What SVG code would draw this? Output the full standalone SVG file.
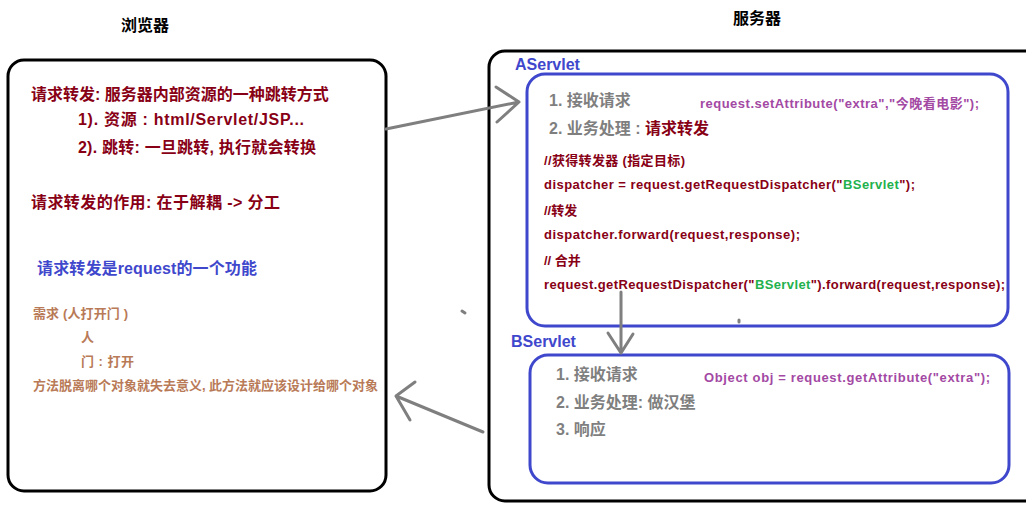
<svg xmlns="http://www.w3.org/2000/svg" width="1026" height="508" viewBox="0 0 1026 508">
<style>
text{font-family:"Liberation Sans","Noto Sans CJK SC",sans-serif;font-weight:bold}
.t16{font-size:16px}
.t13{font-size:13px}
.blk{fill:#000}
.red{fill:#880015}
.blue{fill:#3F48CC}
.brown{fill:#B97A57}
.grey{fill:#7F7F7F}
.purple{fill:#A349A4}
.green{fill:#22B14C}
.box{fill:none;stroke:#000;stroke-width:3}
.bbox{fill:none;stroke:#3F48CC;stroke-width:3}
.arr{fill:none;stroke:#7F7F7F;stroke-width:3;stroke-linecap:round;stroke-linejoin:round}
</style>
<rect width="1026" height="508" fill="#fff"/>
<g id="title-browser"><text class="t16 blk" x="121" y="31">浏览器</text></g>
<g id="title-server"><text class="t16 blk" x="733" y="24">服务器</text></g>
<g id="browser">
<rect class="box" x="8" y="60" width="378" height="431" rx="16"/>
<text class="t16 red" x="31" y="100">请求转发: 服务器内部资源的一种跳转方式</text>
<text class="t16 red" x="78" y="125" textLength="226">1). 资源 : html/Servlet/JSP...</text>
<text class="t16 red" x="78" y="153" textLength="238">2). 跳转: 一旦跳转, 执行就会转换</text>
<text class="t16 red" x="31" y="208" textLength="249">请求转发的作用: 在于解耦 -&gt; 分工</text>
<text class="t16 blue" x="37" y="274" textLength="220">请求转发是request的一个功能</text>
<text class="t13 brown" x="33" y="318" textLength="95">需求 (人打开门 )</text>
<text class="t13 brown" x="81" y="342">人</text>
<text class="t13 brown" x="81" y="366" textLength="53">门 : 打开</text>
<text class="t13 brown" x="33" y="390" textLength="345">方法脱离哪个对象就失去意义, 此方法就应该设计给哪个对象</text>
</g>
<g id="server">
<rect class="box" x="489" y="51" width="580" height="450" rx="16"/>
</g>
<g id="aservlet">
<text class="t16 blue" x="515" y="70">AServlet</text>
<rect class="bbox" x="527" y="74" width="481" height="252" rx="18"/>
<text class="t16 grey" x="549" y="106">1. 接收请求</text>
<text class="t16 grey" x="549" y="134">2. 业务处理 : <tspan class="red">请求转发</tspan></text>
<text class="t13 purple" x="700" y="108" textLength="279">request.setAttribute("extra","今晚看电影");</text>
<text class="t13 red" x="544" y="165" textLength="141">//获得转发器 (指定目标)</text>
<text class="t13 red" x="544" y="189" textLength="371">dispatcher = request.getRequestDispatcher("<tspan class="green">BServlet</tspan>");</text>
<text class="t13 red" x="544" y="215">//转发</text>
<text class="t13 red" x="544" y="239" textLength="256">dispatcher.forward(request,response);</text>
<text class="t13 red" x="544" y="265">// 合并</text>
<text class="t13 red" x="544" y="289" textLength="461">request.getRequestDispatcher("<tspan class="green">BServlet</tspan>").forward(request,response);</text>
</g>
<g id="bservlet">
<text class="t16 blue" x="511" y="347">BServlet</text>
<rect class="bbox" x="530" y="355" width="479" height="128" rx="18"/>
<text class="t16 grey" x="556" y="380">1. 接收请求</text>
<text class="t16 grey" x="556" y="408">2. 业务处理: 做汉堡</text>
<text class="t16 grey" x="556" y="435">3. 响应</text>
<text class="t13 purple" x="704" y="382" textLength="286">Object obj = request.getAttribute("extra");</text>
</g>
<g id="connectors">
<path class="arr" d="M386 129 L519 102 M496 87 L519 102 L497 122"/>
<path class="arr" d="M621 292 L621 353 M608 333 L621 353 L633 334"/>
<path class="arr" d="M483 432 L396 396 M415 382 L396 396 L410 420"/>
<path class="arr" d="M462 311 L465 313"/>
<path class="arr" d="M739 320 L739 322"/>
</g>
</svg>
